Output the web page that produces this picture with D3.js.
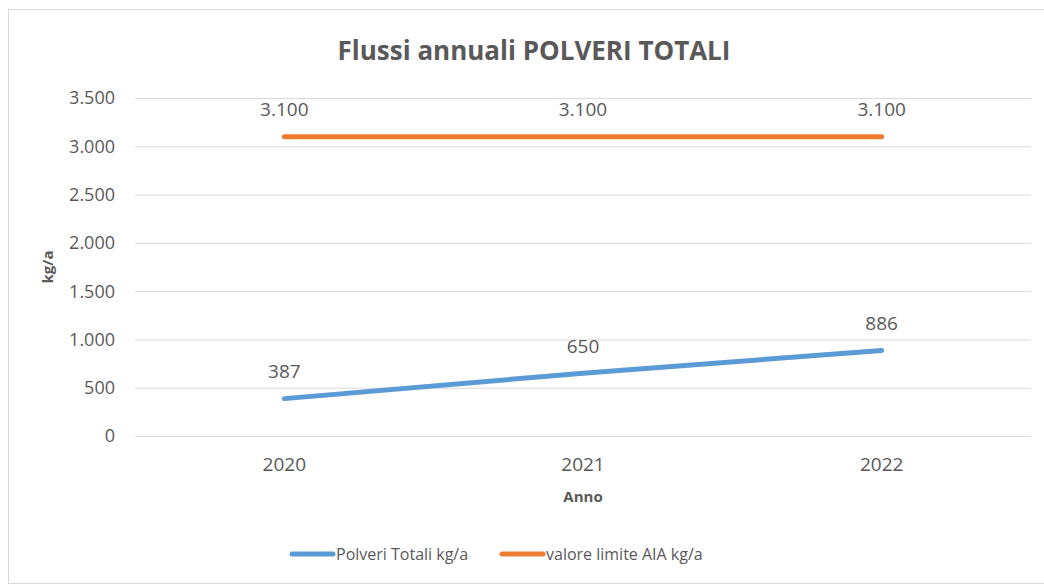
<!DOCTYPE html>
<html>
<head>
<meta charset="utf-8">
<script src="https://cdn.jsdelivr.net/npm/d3@7"></script>
<style>
  body { margin: 0; background: #fff; }
  text { font-family: "Open Sans", Lato, sans-serif; fill: #595959; }
</style>
</head>
<body>
<div id="chart"></div>
<script>
const years = ["2020", "2021", "2022"];
const polveri = [387, 650, 886];
const limite = [3100, 3100, 3100];
const yTicks = [0, 500, 1000, 1500, 2000, 2500, 3000, 3500];
const seriesNames = ["Polveri Totali kg/a", "valore limite AIA kg/a"];
const colors = ["#5B9BD5", "#ED7D31"];

const width = 1044, height = 585;
const margin = {top: 98, right: 13, bottom: 149, left: 135};

const svg = d3.select("#chart").append("svg")
    .attr("width", width)
    .attr("height", height);

// chart frame
svg.append("rect")
    .attr("x", 8.5).attr("y", 9.5)
    .attr("width", 1040).attr("height", 574)
    .attr("fill", "#fff")
    .attr("stroke", "#d9d9d9");

const x = d3.scalePoint()
    .domain(years)
    .range([margin.left, width - margin.right])
    .padding(0.5);

const y = d3.scaleLinear()
    .domain([0, 3500])
    .range([height - margin.bottom, margin.top]);

const fmt = d => d3.format(",")(d).replace(/,/g, ".");

// gridlines
svg.append("g")
    .selectAll("line")
    .data(yTicks)
    .enter().append("line")
        .attr("x1", margin.left)
        .attr("x2", width - margin.right)
        .attr("y1", d => y(d) + 0.5)
        .attr("y2", d => y(d) + 0.5)
        .attr("stroke", "#d9d9d9")
        .attr("stroke-width", 1);

// y tick labels
svg.append("g")
    .selectAll("text")
    .data(yTicks)
    .enter().append("text")
        .attr("x", 115)
        .attr("y", d => y(d))
        .attr("dy", "0.36em")
        .attr("text-anchor", "end")
        .style("font-size", "18px")
        .text(fmt);

// x tick labels
svg.append("g")
    .selectAll("text")
    .data(years)
    .enter().append("text")
        .attr("x", d => x(d))
        .attr("y", 464)
        .attr("dy", "0.36em")
        .attr("text-anchor", "middle")
        .style("font-size", "19px")
        .text(d => d);

// title
svg.append("text")
    .attr("x", 534)
    .attr("y", 60)
    .attr("text-anchor", "middle")
    .style("font-size", "26px")
    .style("font-weight", "bold")
    .text("Flussi annuali POLVERI TOTALI");

// axis titles
svg.append("text")
    .attr("x", x("2021"))
    .attr("y", 502)
    .attr("text-anchor", "middle")
    .style("font-size", "15px")
    .style("font-weight", "bold")
    .text("Anno");

svg.append("text")
    .attr("transform", "translate(48," + y(1750) + ") rotate(-90)")
    .attr("dy", "0.35em")
    .attr("text-anchor", "middle")
    .style("font-size", "15px")
    .style("font-weight", "bold")
    .text("kg/a");

// lines
const line = d3.line()
    .x((d, i) => x(years[i]))
    .y(d => y(d));

[polveri, limite].forEach((series, s) => {
    svg.append("path")
        .datum(series)
        .attr("d", line)
        .attr("fill", "none")
        .attr("stroke", colors[s])
        .attr("stroke-width", 5)
        .attr("stroke-linecap", "round")
        .attr("stroke-linejoin", "round");

    svg.append("g")
        .selectAll("text")
        .data(series)
        .enter().append("text")
            .attr("x", (d, i) => x(years[i]))
            .attr("y", d => y(d) - 27)
            .attr("dy", "0.36em")
            .attr("text-anchor", "middle")
            .style("font-size", "19px")
            .text(fmt);
});

// legend
const legendX = [292, 502];
seriesNames.forEach((name, s) => {
    const g = svg.append("g")
        .attr("transform", "translate(" + legendX[s] + ",554)");
    g.append("line")
        .attr("x1", 0).attr("x2", 41)
        .attr("stroke", colors[s])
        .attr("stroke-width", 5)
        .attr("stroke-linecap", "round");
    g.append("text")
        .attr("x", 44)
        .attr("dy", "0.36em")
        .style("font-size", "16px")
        .text(name);
});
</script>
</body>
</html>
